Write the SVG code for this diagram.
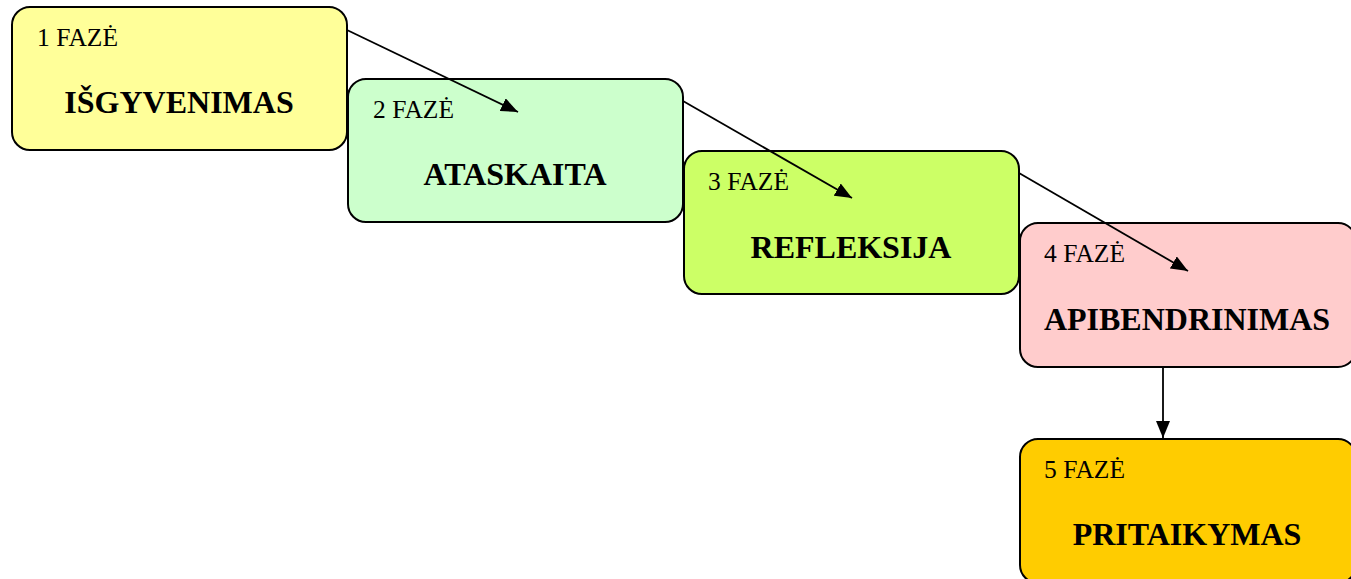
<svg xmlns="http://www.w3.org/2000/svg" width="1351" height="579" viewBox="0 0 1351 579">
<style>
.box{stroke:#000;stroke-width:2}
.ph{font-family:"Liberation Serif","Times New Roman",serif;font-size:25.5px;fill:#000}
.tt{font-family:"Liberation Serif","Times New Roman",serif;font-size:32px;font-weight:bold;fill:#000;text-anchor:middle}
.conn{stroke:#000;stroke-width:1.8;fill:none}
</style>
<defs>
<marker id="ah" markerUnits="userSpaceOnUse" markerWidth="18" markerHeight="14" refX="17" refY="7" orient="auto">
<path d="M0,0 L17,7 L0,14 Z" fill="#000"/>
</marker>
</defs>
<rect width="1351" height="579" fill="#fff"/>
<g id="node1">
<rect class="box" x="12" y="7" width="335" height="143" rx="18" fill="#FFFF99"/>
<text class="ph" x="37" y="46">1 FAZĖ</text>
<text class="tt" x="179" y="113">IŠGYVENIMAS</text>
</g>
<g id="node2">
<rect class="box" x="348" y="79" width="335" height="143" rx="18" fill="#CCFFCC"/>
<text class="ph" x="373" y="118">2 FAZĖ</text>
<text class="tt" x="515" y="185">ATASKAITA</text>
</g>
<g id="node3">
<rect class="box" x="684" y="151" width="335" height="143" rx="18" fill="#CCFF66"/>
<text class="ph" x="708" y="190">3 FAZĖ</text>
<text class="tt" x="851" y="258">REFLEKSIJA</text>
</g>
<g id="node4">
<rect class="box" x="1020" y="223" width="336" height="144" rx="18" fill="#FFCCCC"/>
<text class="ph" x="1044" y="262">4 FAZĖ</text>
<text class="tt" x="1187" y="330">APIBENDRINIMAS</text>
</g>
<g id="node5">
<rect class="box" x="1020" y="439" width="336" height="144" rx="18" fill="#FFCC00"/>
<text class="ph" x="1044" y="478">5 FAZĖ</text>
<text class="tt" x="1187" y="545">PRITAIKYMAS</text>
</g>
<g id="connectors">
<line class="conn" x1="347" y1="30" x2="518" y2="112" marker-end="url(#ah)"/>
<line class="conn" x1="683" y1="101" x2="852" y2="198" marker-end="url(#ah)"/>
<line class="conn" x1="1019" y1="173" x2="1188" y2="271" marker-end="url(#ah)"/>
<line class="conn" x1="1163" y1="367" x2="1163" y2="438" marker-end="url(#ah)"/>
</g>
</svg>
